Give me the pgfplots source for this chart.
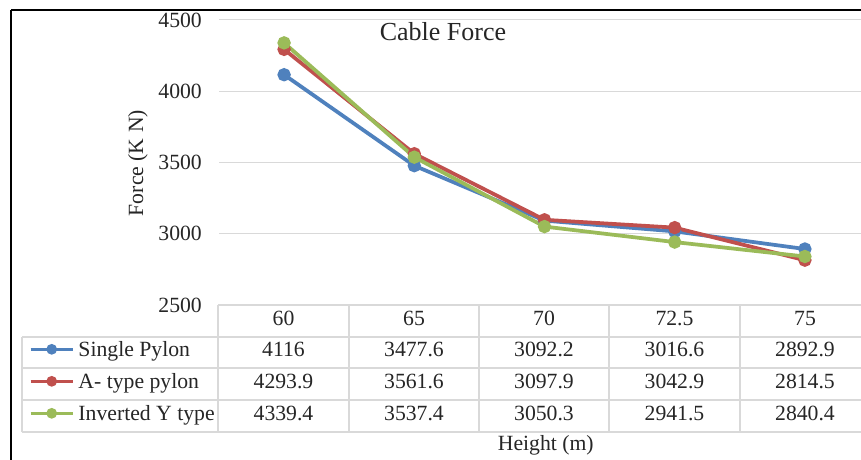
\documentclass[border=0pt]{standalone}
\usepackage{pgfplots}
\pgfplotsset{compat=1.18}
\usepackage{fontspec}
\setmainfont{Liberation Serif}
\definecolor{sblue}{HTML}{4F81BD}
\definecolor{sred}{HTML}{C0504D}
\definecolor{sgreen}{HTML}{9BBB59}
\definecolor{gridc}{HTML}{D9D9D9}
\definecolor{txt}{HTML}{262626}
\newcommand{\tf}{\fontsize{21.7bp}{25bp}\selectfont}
\begin{document}
\begin{tikzpicture}
\useasboundingbox (0bp,0bp) rectangle (861bp,460bp);
\fill[white] (0bp,0bp) rectangle (861bp,460bp);
\begin{axis}[
  at={(219bp,155bp)}, anchor=south west, scale only axis,
  width=651bp, height=285bp,
  xmin=-0.5, xmax=4.5, ymin=2500, ymax=4500,
  ytick={2500,3000,3500,4000,4500}, xtick=\empty,
  axis line style={draw=none},
  major tick length=0pt,
  ymajorgrids, grid style={gridc, line width=1bp},
  /pgf/number format/assume math mode=true,
  /pgf/number format/1000 sep={},
  yticklabel style={font=\tf, text=txt, inner sep=0pt, xshift=-17bp},
  ylabel={Force (K N)},
  ylabel style={at={(axis description cs:-0.1244,0.498)}, anchor=center, font=\tf, text=txt},
  title={Cable Force},
  title style={at={(axis description cs:0.344,0.940)}, anchor=center, font=\fontsize{26bp}{30bp}\selectfont, text=txt},
  xlabel={Height (m)},
  xlabel style={at={(axis description cs:0.502,-0.491)}, anchor=center, font=\tf, text=txt},
  clip=false,
  legend cell align=left,
  legend style={at={(axis description cs:-0.2919,-0.1123)}, anchor=north west,
    draw=none, fill=none, inner sep=0pt, outer sep=0pt, row sep=0pt, column sep=4bp,
    font=\tf, text=txt,
    nodes={inner sep=0pt, text height=19bp, text depth=13bp}},
  legend image code/.code={\draw[#1, mark repeat=2, mark phase=2, mark size=3.5bp, line width=3.5bp] plot coordinates {(0bp,3.7bp) (21bp,3.7bp) (42bp,3.7bp)};},
  every axis plot/.append style={line width=3.75bp, mark=*, mark size=4.75bp},
]
\addplot[sblue, mark options={fill=sblue, draw=sblue}] coordinates {(0,4116) (1,3477.6) (2,3092.2) (3,3016.6) (4,2892.9)};
\addlegendentry{Single Pylon}
\addplot[sred, mark options={fill=sred, draw=sred}] coordinates {(0,4293.9) (1,3561.6) (2,3097.9) (3,3042.9) (4,2814.5)};
\addlegendentry{A- type pylon}
\addplot[sgreen, mark options={fill=sgreen, draw=sgreen}] coordinates {(0,4339.4) (1,3537.4) (2,3050.3) (3,2941.5) (4,2840.4)};
\addlegendentry{Inverted Y type}
\end{axis}
\begin{scope}[x=1bp,y=1bp]
% data table grid
\begin{scope}[gridc, line width=1.2bp]
  \draw (218,{460-305}) -- (875,{460-305});
  \foreach \yy in {337,368,400,432} \draw (22,{460-\yy}) -- (875,{460-\yy});
  \draw (22,{460-337}) -- (22,{460-432});
  \foreach \xx in {218,349,479,609,740} \draw (\xx,{460-305}) -- (\xx,{460-432});
\end{scope}
% data table text
\foreach \cx/\h/\a/\b/\c in {283.5/60/4116/4293.9/4339.4, 414/65/3477.6/3561.6/3537.4, 544/70/3092.2/3097.9/3050.3, 674.5/72.5/3016.6/3042.9/2941.5, 805/75/2892.9/2814.5/2840.4}{
  \node[anchor=base, inner sep=0pt, font=\tf, text=txt] at (\cx,{460-325}) {\h};
  \node[anchor=base, inner sep=0pt, font=\tf, text=txt] at (\cx,{460-356}) {\a};
  \node[anchor=base, inner sep=0pt, font=\tf, text=txt] at (\cx,{460-388}) {\b};
  \node[anchor=base, inner sep=0pt, font=\tf, text=txt] at (\cx,{460-420}) {\c};
}
% outer frame
\draw[black, line width=2.5bp] (11,{460-10}) -- (870,{460-10});
\draw[black, line width=2.5bp] (11,{460-10}) -- (11,-5);
\end{scope}
\end{tikzpicture}
\end{document}
